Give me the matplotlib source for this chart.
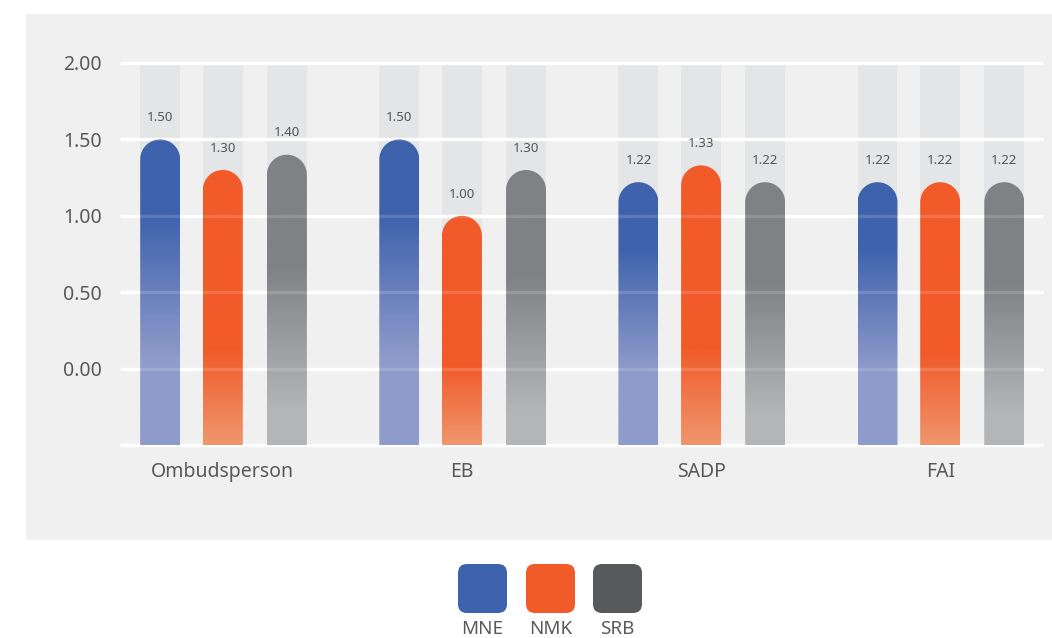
import matplotlib
matplotlib.use("Agg")
import matplotlib.pyplot as plt
import numpy as np
from matplotlib.path import Path
from matplotlib.patches import PathPatch, Rectangle, FancyBboxPatch
from matplotlib.colors import to_rgba

plt.rcParams['font.family'] = ['Noto Sans', 'DejaVu Sans']

# --- data ---
groups = ["Ombudsperson", "EB", "SADP", "FAI"]
series = ["MNE", "NMK", "SRB"]
mne = [1.50, 1.50, 1.22, 1.22]
nmk = [1.30, 1.00, 1.33, 1.22]
srb = [1.40, 1.30, 1.22, 1.22]
yticks = [0.0, 0.5, 1.0, 1.5, 2.0]

# solid colours and gradient stops (fraction of bar height, colour)
solid = ["#3d63ae", "#f15a29", "#58595b"]
grad = [
    [(0.0, "#8f9bca"), (0.28, "#8f9bca"), (0.75, "#3f62ad"), (1.0, "#3f62ad")],
    [(0.0, "#ef966d"), (0.35, "#f15a29"), (1.0, "#f15a29")],
    [(0.0, "#b4b5b7"), (0.12, "#b4b5b7"), (0.62, "#808184"), (1.0, "#808184")],
]

W, H = 1052, 638
fig = plt.figure(figsize=(W / 100, H / 100), dpi=100, facecolor="white")

# background layer: grey panel + legend
bg = fig.add_axes([0, 0, 1, 1], zorder=-1)
bg.set_xlim(0, W)
bg.set_ylim(H, 0)
bg.axis("off")
bg.add_patch(Rectangle((26, 14), W - 26, 526, color="#f0f0f0", lw=0))

leg_x = [458, 526, 593]
for i, name in enumerate(series):
    bg.add_patch(FancyBboxPatch((leg_x[i] + 9, 573), 31, 31,
                                boxstyle="round,pad=9", color=solid[i], lw=0))
    bg.text(leg_x[i] + 24.5, 629, name, ha="center", va="center",
            fontsize=13.5, color="#595959")

# main axes
y_lo, y_hi = -0.5, 2.0
ax_l, ax_r, ax_b, ax_t = 120, 1043, 445, 63
ax = fig.add_axes([ax_l / W, 1 - ax_b / H, (ax_r - ax_l) / W, (ax_b - ax_t) / H])
ax.set_facecolor("none")
x_lo, x_hi = -0.43, 3.43
ax.set_xlim(x_lo, x_hi)
ax.set_ylim(y_lo, y_hi)
for s in ax.spines.values():
    s.set_visible(False)

px_per_y = (ax_b - ax_t) / (y_hi - y_lo)

grid_levels = [y_lo] + yticks
ax.hlines(grid_levels, x_lo, x_hi, color="white", lw=2.4, zorder=1, clip_on=False)

bar_w = 0.167
offsets = [-0.262, 0.0, 0.268]
ry = 20 / px_per_y  # cap radius in data units
values = [mne, nmk, srb]


def capsule(xc, top):
    x0, x1 = xc - bar_w / 2, xc + bar_w / 2
    t = np.linspace(0, np.pi, 40)
    verts = [(x0, y_lo), (x1, y_lo)]
    verts += list(zip(xc + bar_w / 2 * np.cos(t), top - ry + ry * np.sin(t)))
    verts += [(x0, y_lo), (x0, y_lo)]
    codes = [Path.MOVETO] + [Path.LINETO] * (len(verts) - 2) + [Path.CLOSEPOLY]
    return Path(verts, codes)


for si in range(3):
    fr = [p[0] for p in grad[si]]
    cols = np.array([to_rgba(p[1]) for p in grad[si]])
    f = np.linspace(0, 1, 256)
    img = np.stack([np.interp(f, fr, cols[:, k]) for k in range(4)], axis=-1)[:, None, :]
    for gi in range(len(groups)):
        xc = gi + offsets[si]
        v = values[si][gi]
        # track
        ax.add_patch(Rectangle((xc - bar_w / 2, y_lo), bar_w, y_hi - y_lo,
                               color="#e4e5e7", lw=0, zorder=0.5))
        patch = PathPatch(capsule(xc, v), facecolor="none", edgecolor="none", zorder=2)
        ax.add_patch(patch)
        im = ax.imshow(img, extent=(xc - bar_w / 2, xc + bar_w / 2, y_lo, v),
                       origin="lower", aspect="auto", interpolation="bilinear", zorder=2)
        im.set_clip_path(patch)
        ax.annotate(f"{v:.2f}", (xc, v), xytext=(0, 11), textcoords="offset points",
                    ha="center", va="bottom", fontsize=9.5, color="#555555", zorder=4)

# faint gridlines showing through the bars
ax.hlines(grid_levels[1:], x_lo, x_hi, color="white", lw=2.4, alpha=0.15, zorder=3)

ax.set_xlim(x_lo, x_hi)
ax.set_ylim(y_lo, y_hi)
ax.set_yticks(yticks)
ax.set_yticklabels([f"{t:.2f}" for t in yticks])
ax.set_xticks(range(len(groups)))
ax.set_xticklabels(groups)
ax.tick_params(axis="y", length=0, pad=13, labelsize=14, labelcolor="#595959")
ax.tick_params(axis="x", length=0, pad=12, labelsize=14, labelcolor="#595959")

fig.savefig("out.png", dpi=100, facecolor="white")
